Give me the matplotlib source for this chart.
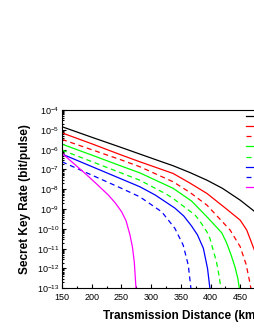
import matplotlib
matplotlib.use("Agg")
import matplotlib.pyplot as plt
import matplotlib.ticker as ticker
import numpy as np

#-------------------------------------------------------------------------------
plt.rcParams['font.family'] = ['Liberation Sans', 'DejaVu Sans']
plt.rcParams['mathtext.fontset'] = 'custom'
plt.rcParams['mathtext.rm'] = 'Liberation Sans'
plt.rcParams['mathtext.it'] = 'Liberation Sans:italic'
plt.rcParams['mathtext.bf'] = 'Liberation Sans:bold'

#-------------------------------------------------------------------------------
# values (distance in km, log10 of key rate)
labels = ['Case 1', 'Case 2', 'Case 3', 'Case 4',
          'Case 5', 'Case 6', 'Case 7', 'Case 8']

L_black = [150, 200, 250, 281, 315, 337, 365, 394, 420, 450, 475, 490, 505, 520, 535, 550]
r_black = [-4.84, -5.37, -5.89, -6.22, -6.58, -6.81, -7.15, -7.54, -7.95, -8.55, -9.14,
           -9.6, -10.2, -10.9, -11.8, -13.0]

L_red = [150, 200, 250, 281, 337, 365, 394, 425, 450, 461, 475, 483, 488]
r_red = [-5.15, -5.7, -6.27, -6.61, -7.2, -7.68, -8.21, -8.95, -9.56, -10.06,
         -11.16, -12.0, -13.0]

L_red_d = [150, 200, 250, 281, 337, 365, 394, 433, 450, 460, 465.5, 468]
r_red_d = [-5.48, -6.0, -6.52, -6.86, -7.62, -8.15, -8.8, -10.06, -10.9,
           -11.8, -12.6, -13.0]

L_green = [150, 200, 250, 281, 337, 368, 394, 419, 427, 435, 441, 446, 448.5]
r_green = [-5.72, -6.27, -6.83, -7.17, -7.95, -8.59, -9.39, -10.2, -10.7,
           -11.35, -11.9, -12.5, -13.0]

L_green_d = [150, 200, 250, 281, 326, 337, 374, 382, 394, 399, 410, 414, 417.5]
r_green_d = [-6.02, -6.6, -7.18, -7.54, -8.25, -8.46, -9.3, -9.6, -10.15,
             -10.48, -11.66, -12.3, -13.0]

L_blue = [150, 200, 250, 281, 307, 340, 355, 368, 378, 388, 395, 399]
r_blue = [-6.22, -6.85, -7.48, -7.87, -8.29, -8.95, -9.35, -9.85, -10.3,
          -10.98, -12.0, -13.0]

L_blue_d = [150, 200, 250, 281, 318, 340, 354, 362.6, 367]
r_blue_d = [-6.61, -7.28, -7.95, -8.38, -9.14, -9.97, -10.82, -11.83, -13.0]

L_mag = [150, 192, 210, 228, 240, 250.5, 258, 264.5, 268.5, 271.7, 274.6]
r_mag = [-6.18, -7.28, -7.78, -8.29, -8.7, -9.14, -9.6, -10.31, -10.9,
         -11.66, -13.0]

#-------------------------------------------------------------------------------
fig = plt.figure(figsize=(2.55, 3.3), dpi=100)
ax = fig.add_axes([0.243, 0.1264, 0.932, 0.540])

curves = [
    (L_black, r_black, 'k', '-'),
    (L_red, r_red, '#ff0000', '-'),
    (L_red_d, r_red_d, '#ff0000', '--'),
    (L_green, r_green, '#00ff00', '-'),
    (L_green_d, r_green_d, '#00ff00', '--'),
    (L_blue, r_blue, '#0000ff', '-'),
    (L_blue_d, r_blue_d, '#0000ff', '--'),
    (L_mag, r_mag, '#ff00ff', '-'),
]
for (L, r, c, ls), lab in zip(curves, labels):
    ax.plot(L, 10.0 ** np.array(r), color=c, ls=ls, lw=0.9,
            dashes=(4, 3) if ls == '--' else (None, None), label=lab)

ax.set_yscale('log')
ax.set_xlim(150, 550)
ax.set_ylim(1e-13, 1e-4)
ax.xaxis.set_major_locator(ticker.MultipleLocator(50))
ax.xaxis.set_minor_locator(ticker.MultipleLocator(25))
ax.yaxis.set_major_locator(ticker.LogLocator(base=10, numticks=20))
ax.yaxis.set_minor_locator(ticker.LogLocator(base=10, subs=np.arange(2, 10), numticks=20))
ax.yaxis.set_minor_formatter(ticker.NullFormatter())

ax.tick_params(which='both', direction='in', top=False, right=False,
               labelsize=6.5, width=0.8)
ax.tick_params(axis='x', pad=3.5)
ax.tick_params(axis='y', pad=2)
ax.tick_params(which='major', length=3)
ax.tick_params(which='minor', length=1.5)
for s in ax.spines.values():
    s.set_linewidth(0.8)

ax.set_xlabel('Transmission Distance (km)', fontsize=8.5, fontweight='bold', labelpad=6)
ax.set_ylabel('Secret Key Rate (bit/pulse)', fontsize=8.5, fontweight='bold', labelpad=4)

ax.legend(loc='upper left', bbox_to_anchor=(246 / 255, 1 - 113 / 330),
          bbox_transform=fig.transFigure, frameon=False, fontsize=6,
          handlelength=2.6, labelspacing=0.28, borderpad=0, borderaxespad=0,
          handletextpad=0.5)

fig.savefig('out.png', dpi=100)
